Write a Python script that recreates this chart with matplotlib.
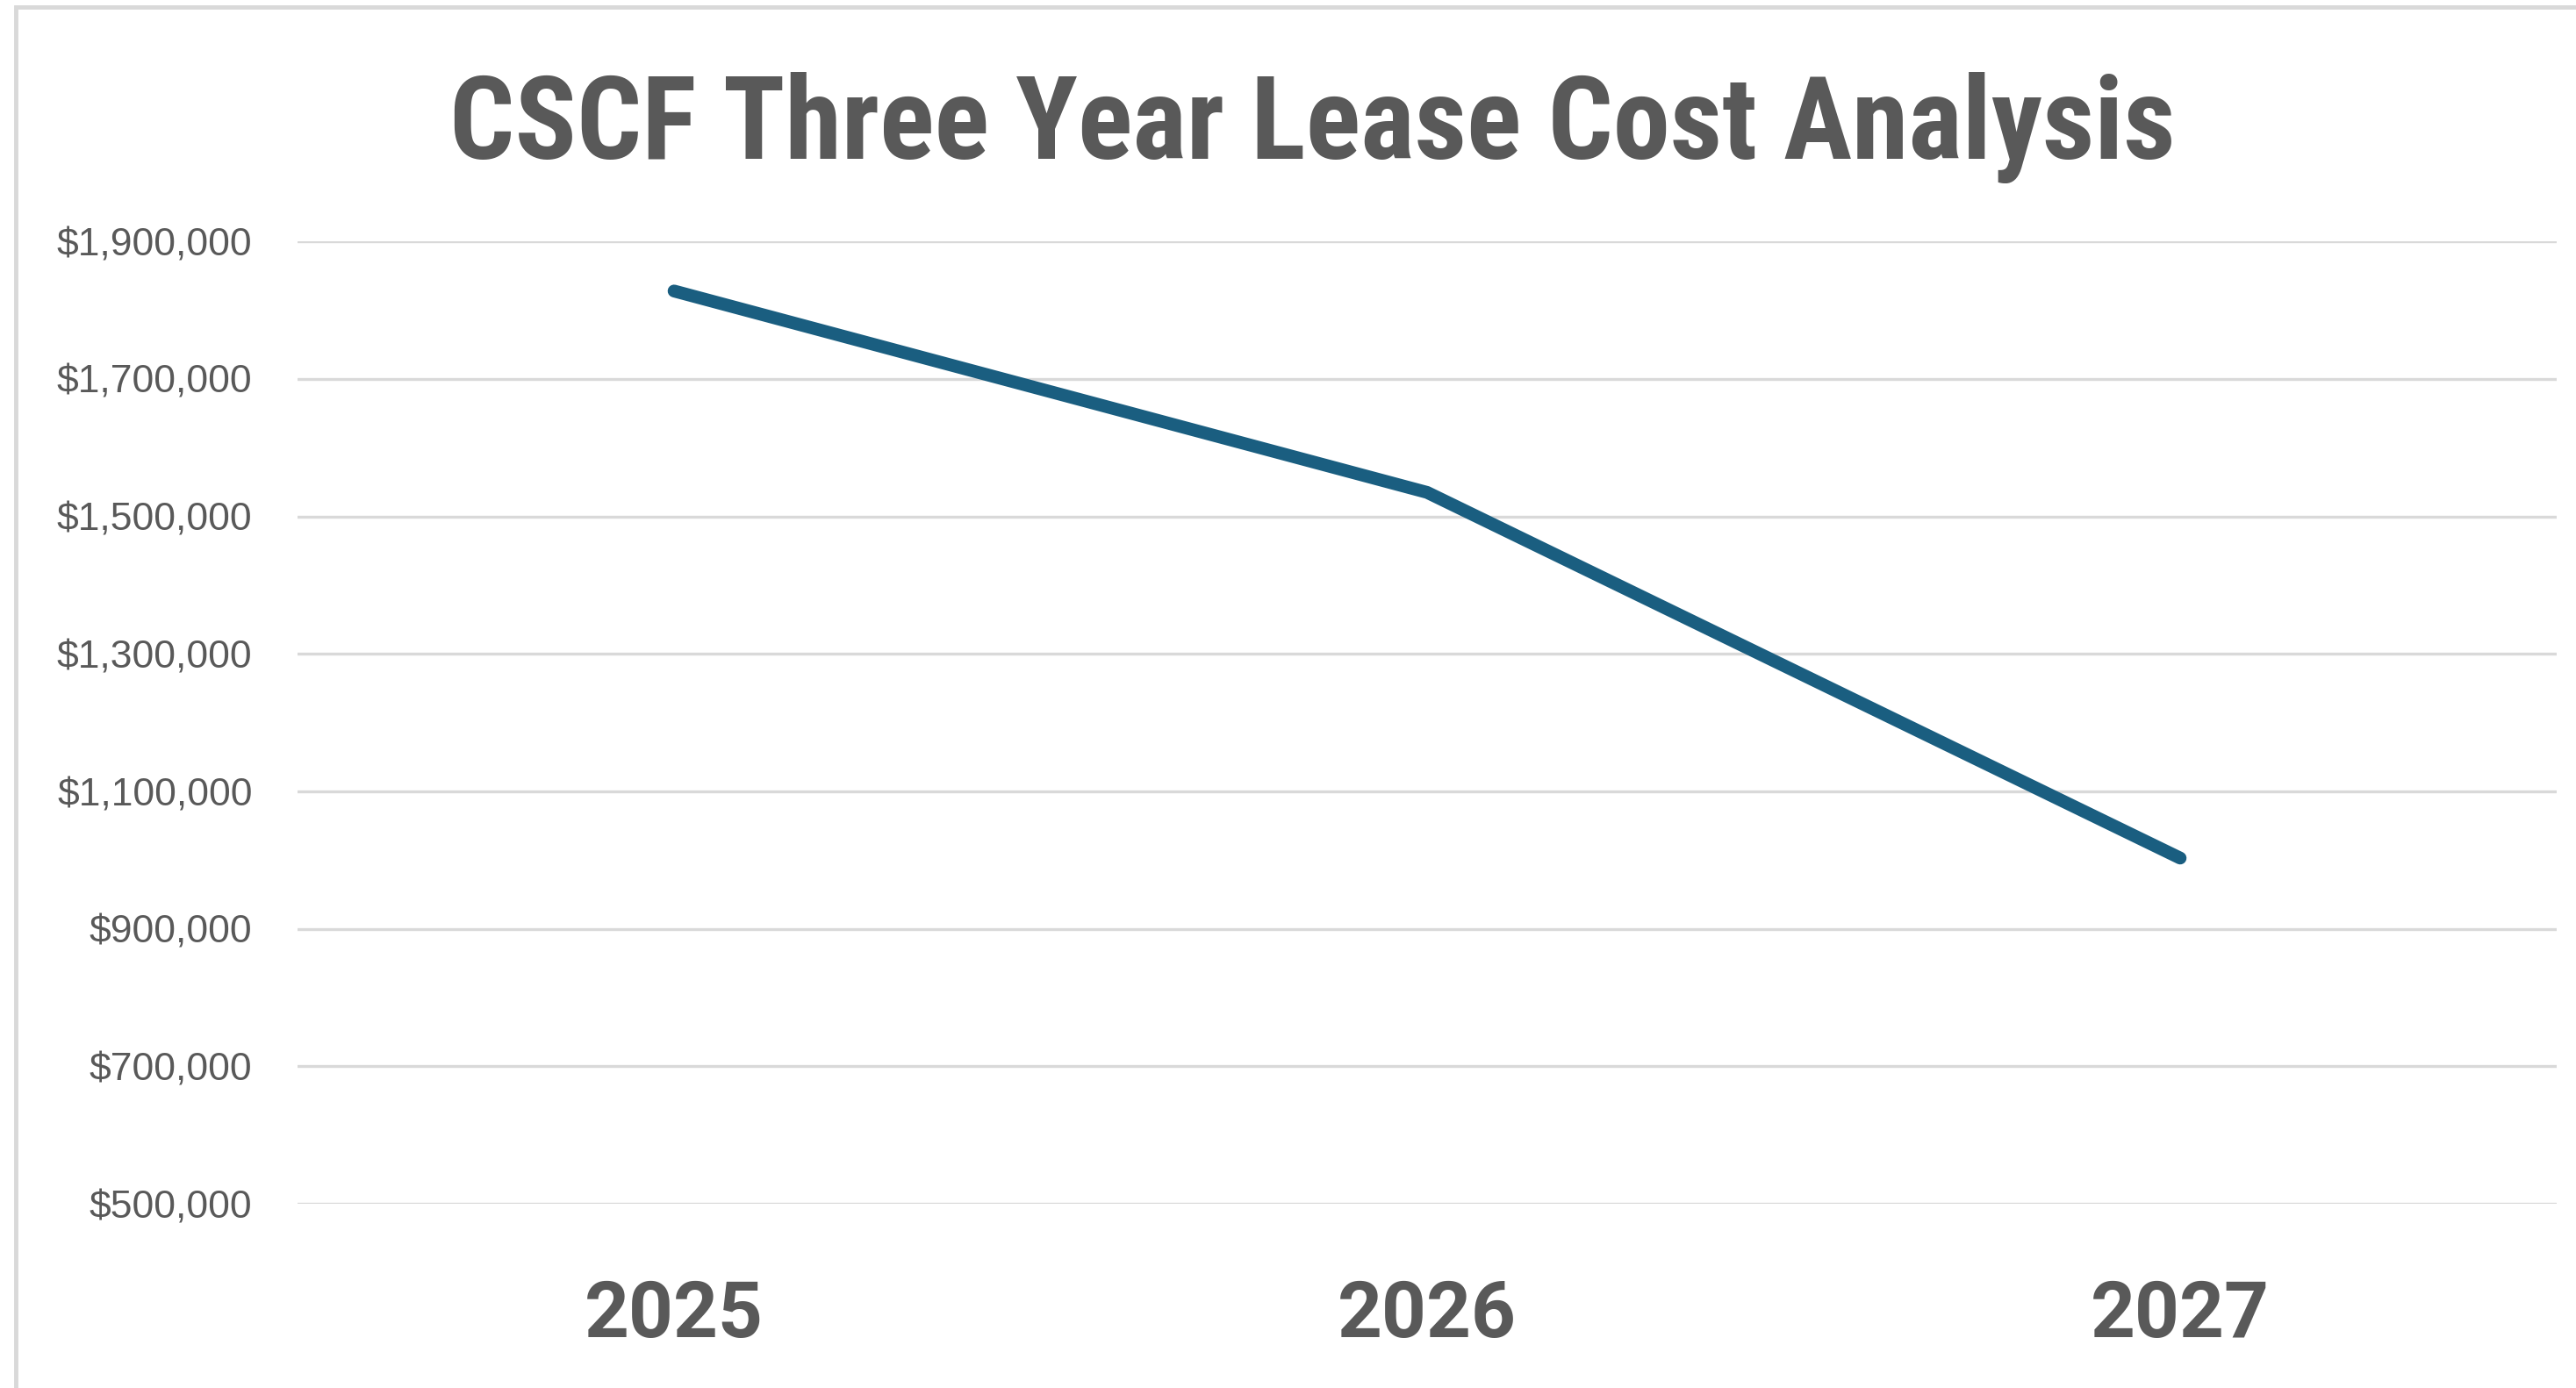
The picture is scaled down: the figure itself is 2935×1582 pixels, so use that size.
import matplotlib.pyplot as plt
from matplotlib.patches import Rectangle
from matplotlib.ticker import FuncFormatter

years = ['2025', '2026', '2027']
lease_cost = [1828000, 1535000, 1003000]
yticks = [500000, 700000, 900000, 1100000, 1300000, 1500000, 1700000, 1900000]

grey = '#595959'
plt.rcParams['font.family'] = ['Roboto Condensed', 'DejaVu Sans']

fig = plt.figure(figsize=(29.35, 15.82), dpi=100)
ax = fig.add_axes([0.1155, 0.1327, 0.877, 0.6933])

x = [i + 0.5 for i in range(len(years))]
ax.plot(x, lease_cost, color='#1A5E80', lw=10.5, solid_capstyle='round',
        solid_joinstyle='round', zorder=3)

ax.set_xlim(0, 3)
ax.set_ylim(500000, 1900000)
ax.set_yticks(yticks)
ax.yaxis.set_major_formatter(FuncFormatter(lambda v, p: f'${v:,.0f}'))
ax.set_xticks(x)
ax.set_xticklabels(years, fontsize=64, fontweight='bold', color=grey,
                   family=['Roboto', 'DejaVu Sans'])
for lbl in ax.get_yticklabels():
    lbl.set_family(['Liberation Sans', 'DejaVu Sans'])
ax.tick_params(axis='x', length=0, pad=61)
ax.tick_params(axis='y', length=0, pad=37, labelsize=32, labelcolor=grey)
ax.grid(axis='y', color='#d9d9d9', lw=2.4)
ax.set_axisbelow(True)
for s in ax.spines.values():
    s.set_visible(False)

fig.text(0.5096, 0.948, 'CSCF Three Year Lease Cost Analysis', ha='center', va='top',
         fontsize=94, fontweight='bold', color=grey)

# chart area border (right/bottom fall outside the crop)
fig.patches.append(Rectangle((18 / 2935, -0.05), 1.1, 1.045,
                             transform=fig.transFigure, fill=False,
                             edgecolor='#d9d9d9', lw=3.5))

fig.savefig('out.png', dpi=100)
